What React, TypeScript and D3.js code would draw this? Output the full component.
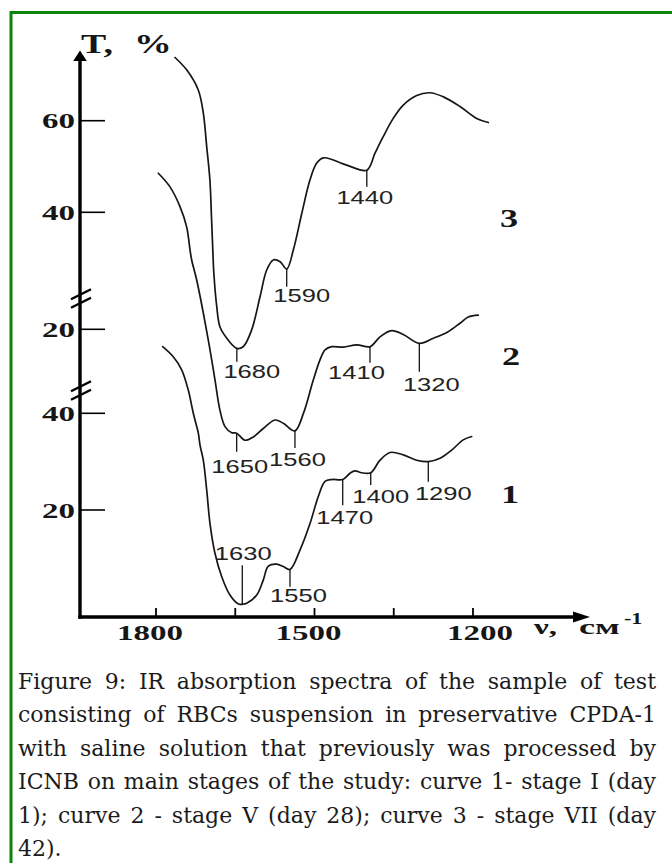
import React, { useEffect, useRef } from "react";
import * as d3 from "d3";

const W = 672;
const H = 863;

// ---------- data: [wavenumber, T %] ----------
// curve 3 – stage VII (day 42), upper part of the broken T axis
const curve3: [number, number][] = [
  [1764, 73.8], [1742, 71.1], [1720, 66.7], [1710.5, 61.7], [1704, 54.3], [1698, 47.1],
  [1695, 39.0], [1692.5, 31.8], [1690.5, 26.7], [1685, 19.4], [1679, 15.0], [1666, 12.5],
  [1647, 10.3], [1635, 10.65], [1619, 14.3], [1603, 21.6], [1590.5, 27.4], [1578, 29.6],
  [1565, 29.2], [1552.6, 27.6], [1540, 31.8], [1524, 39.8], [1508.5, 47.1], [1496, 50.7],
  [1483, 51.9], [1439, 50.3], [1401, 49.2], [1385.5, 52.9], [1370, 56.5], [1351, 60.5],
  [1332, 63.4], [1306.6, 65.5], [1281.4, 66.1], [1256, 65.2], [1224.6, 63.1], [1193, 60.5],
  [1171, 59.6],
];
// curve 2 – stage V (day 28), middle part
const curve2: [number, number][] = [
  [1795.6, 53.2], [1773.5, 50.3], [1754.6, 46.1], [1742, 41.8], [1735.6, 36.9], [1732.4, 34.7],
  [1723, 30.5], [1701, 17.7], [1688.3, 9.2], [1679, 2.8], [1669.4, -0.7], [1656.7, -2.0],
  [1647.3, -2.1], [1631.6, -3.6], [1615.8, -2.9], [1597, -1.1], [1574.8, 0.7], [1559, 0.0],
  [1537, -1.6], [1521, 2.1], [1502.3, 9.2], [1489.6, 13.5], [1480, 15.6], [1467.4, 16.3],
  [1445.5, 16.2], [1420, 16.7], [1395, 16.3], [1376, 18.4], [1354, 19.7], [1332, 18.9],
  [1301.6, 17.0], [1275, 18.1], [1247, 19.5], [1224.6, 21.3], [1209, 22.6], [1190, 23.0],
];
// curve 1 – stage I (day 1), lower part
const curve1: [number, number][] = [
  [1787.3, 53.8], [1767.3, 51.7], [1751.4, 49.0], [1738.9, 44.8], [1729.4, 40.0], [1719.9, 35.9],
  [1716.7, 33.4], [1710.5, 30.3], [1704, 24.1], [1697.8, 17.2], [1688.3, 11.0], [1675.6, 6.2],
  [1660, 2.4], [1644, 0.55], [1636.7, 0.5], [1628.3, 0.7], [1609.4, 2.4], [1597, 5.5],
  [1587.4, 8.4], [1571.6, 8.8], [1559, 8.3], [1546.4, 7.7], [1527.5, 11.7], [1508.5, 17.2],
  [1492.8, 22.8], [1480, 25.9], [1467.4, 26.3], [1446.6, 26.3], [1432.8, 27.6], [1423.3, 28.1],
  [1410.7, 27.7], [1393.6, 27.7], [1376, 30.3], [1357, 31.9], [1332, 31.4], [1306.6, 30.3],
  [1284.6, 30.0], [1262.5, 30.7], [1240.3, 32.4], [1218.4, 34.5], [1202.5, 35.2],
];

// band annotations: label, position on the axis, T at that point
const marks3 = [
  { label: "1680", wn: 1647, t: 10.3 },
  { label: "1590", wn: 1552.6, t: 27.6 },
  { label: "1440", wn: 1401, t: 49.2 },
];
const marks2 = [
  { label: "1650", wn: 1647.3, t: -2.1 },
  { label: "1560", wn: 1537, t: -1.6 },
  { label: "1410", wn: 1395, t: 16.3 },
  { label: "1320", wn: 1301.6, t: 17.0 },
];
const marks1 = [
  { label: "1630", wn: 1636.7, t: 0.5 },
  { label: "1550", wn: 1546.4, t: 7.7 },
  { label: "1470", wn: 1446.6, t: 26.3 },
  { label: "1400", wn: 1393.6, t: 27.7 },
  { label: "1290", wn: 1284.6, t: 30.0 },
];

const xTicks = [1800, 1650, 1500, 1350, 1200];
const xTickLabels = [1800, 1500, 1200];
const yTicksTop = [60, 40];
const yTicksMid = [20];
const yTicksLow = [40, 20];
const curveNames = ["3", "2", "1"];
const yTitle = ["T,", "%"];
const xTitle = ["ν,", "см", "-1"];
const captionLines = [
  "Figure 9: IR absorption spectra of the sample of test",
  "consisting of RBCs suspension in preservative CPDA-1",
  "with saline solution that previously was processed by",
  "ICNB on main stages of the study: curve 1- stage I (day",
  "1); curve 2 - stage V (day 28); curve 3 - stage VII (day",
  "42).",
];

// ---------- layout (pixels) ----------
const AX_X = 80;
const AX_Y = 617;
// tick length, label dx, label baseline dy (from tick end)
const markLayout: Record<string, [number, number, number]> = {
  "1680": [13.4, 15, 15.8],
  "1590": [17.7, 15, 15],
  "1440": [16.7, -2, 17.3],
  "1650": [18.7, 3, 21.5],
  "1560": [17.3, 2.5, 17.5],
  "1410": [16, -13.5, 16.3],
  "1320": [28.4, 12, 19.3],
  "1630": [-39, 1, -5],
  "1550": [17.4, 8.5, 15.3],
  "1470": [25.7, 2, 18.3],
  "1400": [12.3, 10, 18],
  "1290": [20, 15, 18.3],
};
const xLabelDx = [-6, -6, 7];
const breaksY = [299, 391];
const curveNamePos: [number, number][] = [[509, 226.5], [511, 365], [510, 503]];
const CAP_L = 18;
const CAP_R = 656;
const CAP_Y0 = 689;
const CAP_DY = 33.4;

const SERIF = "'Liberation Serif', 'Times New Roman', serif";
const SANS = "'Liberation Sans', Arial, sans-serif";
const CAP_FONT = "'DejaVu Serif', 'Liberation Serif', serif";
const INK = "#161616";

export default function App() {
  const ref = useRef<SVGSVGElement>(null);

  useEffect(() => {
    const svg = d3.select(ref.current as SVGSVGElement);
    svg.selectAll("*").remove();

    const x = d3.scaleLinear().domain([1800, 1200]).range([156, 473]);
    const yTop = d3.scaleLinear().domain([40, 60]).range([212.3, 120.7]);
    const yMid = d3.scaleLinear().domain([20, 40]).range([329.3, 235.3]);
    const yLow = d3.scaleLinear().domain([20, 40]).range([510, 413.3]);

    svg.append("rect").attr("width", W).attr("height", H).attr("fill", "#fff");
    svg.append("rect")
      .attr("x", 11).attr("y", 12.5).attr("width", W + 60).attr("height", H + 60)
      .attr("fill", "none").attr("stroke", "#0b850b").attr("stroke-width", 3);

    const stretched = (
      tx: number, ty: number, sx: number, text: string,
      size: number, anchor: string, family: string, weight: string, fill = INK
    ) => {
      const g = svg.append("g").attr("transform", `translate(${tx},${ty}) scale(${sx},1)`);
      g.append("text")
        .attr("text-anchor", anchor)
        .attr("font-family", family)
        .attr("font-weight", weight)
        .attr("font-size", size)
        .attr("fill", fill)
        .text(text);
    };

    // ---- axes ----
    svg.append("line").attr("x1", AX_X).attr("x2", AX_X).attr("y1", AX_Y + 1.7).attr("y2", 59)
      .attr("stroke", "#000").attr("stroke-width", 3.4);
    svg.append("path").attr("d", `M${AX_X},50.5 L${AX_X - 6.8},61 L${AX_X + 6.8},61 Z`).attr("fill", "#000");
    svg.append("line").attr("x1", AX_X - 1.7).attr("x2", 577).attr("y1", AX_Y).attr("y2", AX_Y)
      .attr("stroke", "#000").attr("stroke-width", 3.4);
    svg.append("path").attr("d", `M590,${AX_Y} L573,${AX_Y - 5.5} L573,${AX_Y + 5.5} Z`).attr("fill", "#000");

    // x ticks
    svg.selectAll(".xt").data(xTicks).enter().append("line")
      .attr("x1", (d) => x(d)).attr("x2", (d) => x(d))
      .attr("y1", AX_Y).attr("y2", AX_Y - 9)
      .attr("stroke", "#000").attr("stroke-width", 1.8);
    xTickLabels.forEach((v, i) => {
      stretched(x(v) + xLabelDx[i], 640, 1.5, String(v), 22, "middle", SERIF, "bold");
    });

    // y ticks (three segments)
    const yTickSets: [number[], d3.ScaleLinear<number, number>][] = [
      [yTicksTop, yTop], [yTicksMid, yMid], [yTicksLow, yLow],
    ];
    yTickSets.forEach(([ticks, sc]) => {
      ticks.forEach((v) => {
        svg.append("line").attr("x1", AX_X).attr("x2", AX_X + 25)
          .attr("y1", sc(v)).attr("y2", sc(v))
          .attr("stroke", "#000").attr("stroke-width", 1.6);
        stretched(75, sc(v) + 7.5, 1.5, String(v), 22, "end", SERIF, "bold");
      });
    });

    // axis breaks
    breaksY.forEach((yc) => {
      [-4.3, 4.3].forEach((off) => {
        svg.append("line")
          .attr("x1", AX_X - 9).attr("y1", yc + off + 4.5)
          .attr("x2", AX_X + 11).attr("y2", yc + off - 5.5)
          .attr("stroke", "#000").attr("stroke-width", 2.4);
      });
    });

    // axis titles
    stretched(81, 53, 1.4, yTitle[0], 27, "start", SERIF, "bold");
    stretched(134, 53, 1.4, yTitle[1], 27, "start", SERIF, "bold");
    stretched(534, 634, 1.5, xTitle[0], 22, "start", SERIF, "bold");
    stretched(579, 634, 1.65, xTitle[1], 22, "start", SERIF, "bold");
    stretched(624, 624, 1.3, xTitle[2], 17, "start", SERIF, "bold");

    // ---- curves ----
    const curves: [[number, number][], d3.ScaleLinear<number, number>, { label: string; wn: number; t: number }[]][] = [
      [curve3, yTop, marks3], [curve2, yMid, marks2], [curve1, yLow, marks1],
    ];
    curves.forEach(([data, sc, marks], ci) => {
      const line = d3.line<[number, number]>()
        .x((d) => x(d[0]))
        .y((d) => sc(d[1]))
        .curve(d3.curveCatmullRom.alpha(0.5));
      svg.append("path").attr("d", line(data) as string)
        .attr("fill", "none").attr("stroke", INK).attr("stroke-width", 1.7)
        .attr("stroke-linejoin", "round").attr("stroke-linecap", "round");

      marks.forEach((m) => {
        const [len, dx, dy] = markLayout[m.label];
        const px = x(m.wn);
        const py = sc(m.t);
        svg.append("line").attr("x1", px).attr("x2", px).attr("y1", py).attr("y2", py + len)
          .attr("stroke", "#111").attr("stroke-width", 1.3);
        stretched(px + dx, py + len + dy, 1.42, m.label, 18, "middle", SANS, "normal", "#222");
      });

      const [nx, ny] = curveNamePos[ci];
      stretched(nx, ny, 1.45, curveNames[ci], 25, "middle", SERIF, "bold");
    });

    // ---- caption (justified) ----
    const target = CAP_R - CAP_L;
    const capTexts = captionLines.map((ln, i) =>
      svg.append("text")
        .attr("x", CAP_L).attr("y", CAP_Y0 + i * CAP_DY)
        .attr("font-family", CAP_FONT).attr("font-size", 22).attr("fill", "#1b1b1b")
        .text(ln)
    );
    let maxW = 0;
    capTexts.forEach((t, i) => {
      if (i < captionLines.length - 1) {
        maxW = Math.max(maxW, (t.node() as SVGTextElement).getComputedTextLength());
      }
    });
    const fs = maxW > target * 0.985 ? 22 * (target * 0.985) / maxW : 22;
    capTexts.forEach((t, i) => {
      t.attr("font-size", fs);
      if (i < captionLines.length - 1) {
        const ln = captionLines[i];
        const w = (t.node() as SVGTextElement).getComputedTextLength();
        const spaces = (ln.match(/ /g) || []).length;
        if (spaces > 0) t.style("word-spacing", `${(target - w) / spaces}px`);
      }
    });
  }, []);

  return (
    <svg
      ref={ref}
      width={W}
      height={H}
      style={{ position: "absolute", left: 0, top: 0, display: "block", background: "#fff" }}
    />
  );
}
